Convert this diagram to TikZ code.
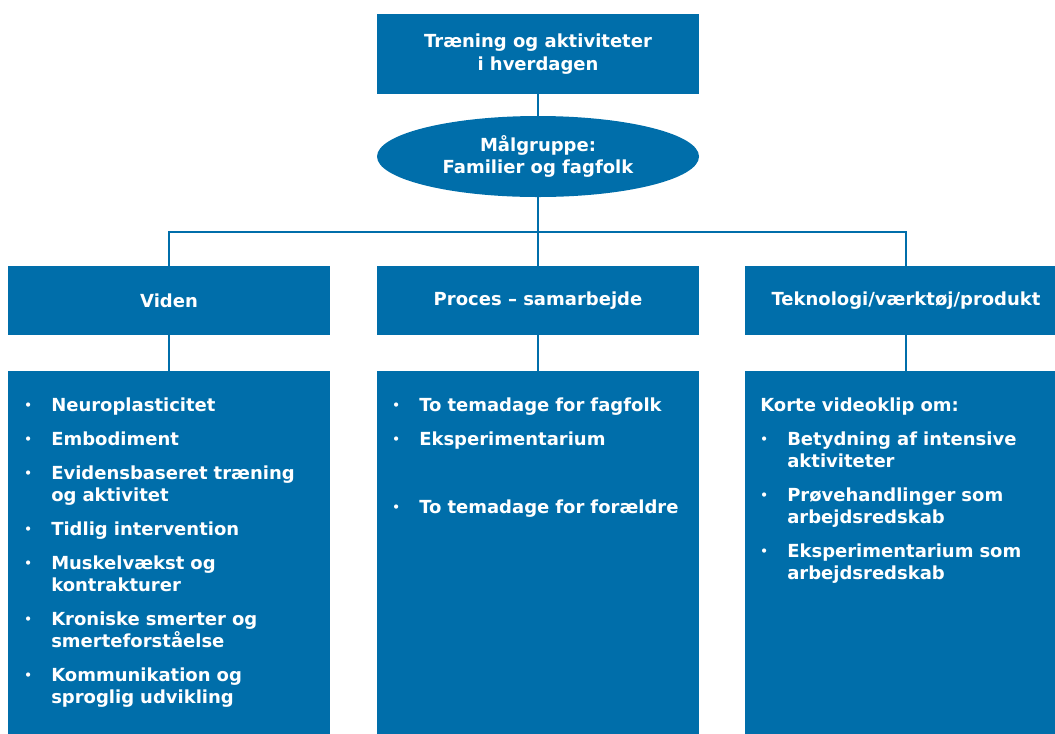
\documentclass[tikz,border=0pt]{standalone}
\usepackage{fontspec}
\setmainfont{DejaVu Sans}
\usetikzlibrary{shapes.geometric}
\definecolor{vblue}{RGB}{0,110,170}
\newcommand{\prik}{\raisebox{1.5pt}{\fontsize{9}{9}\selectfont\textbullet}}
\newcommand{\punkt}[1]{\noindent\hangindent=20.25pt\hangafter=1\makebox[20.25pt][l]{\prik}#1\par\vspace{9pt}}

\tikzset{
	boks/.style={fill=vblue, text=white, font=\bfseries\fontsize{13.5}{17}\selectfont, minimum width=241.5pt, inner sep=0pt, align=center},
	liste/.style={text=white, font=\bfseries\fontsize{13.5}{16.5}\selectfont, text width=225pt, inner sep=0pt, anchor=base west},
	linje/.style={draw=vblue, line width=1.5pt}
}

\begin{document}
\begin{tikzpicture}[x=0.75pt,y=-0.75pt]
	\useasboundingbox (0,0) rectangle (1055,733);
	\node[boks, minimum height=60pt] (top) at (538,54) {Træning og aktiviteter\\ i hverdagen};
	\node[boks, ellipse, minimum height=60.75pt] (maal) at (538,156.5) {Målgruppe:\\ Familier og fagfolk};
	%
	\node[boks, minimum height=51.75pt] (viden) at (169,300.5) {Viden};
	\node[boks, minimum height=51.75pt] (proces) at (538,300.5) {Proces – samarbejde};
	\node[boks, minimum height=51.75pt] (tekno) at (906,300.5) {Teknologi/værktøj/produkt};
	%
	\node[boks, minimum height=277.5pt] (vboks) at (169,556) {};
	\node[boks, minimum height=277.5pt] (pboks) at (538,556) {};
	\node[boks, minimum height=277.5pt] (tboks) at (906,556) {};
	\coordinate (split) at (538,232);
	%
	\node[liste] (vliste) at (24,411.5) {%
		\punkt{Neuroplasticitet}
		\punkt{Embodiment}
		\punkt{Evidensbaseret træning\newline og aktivitet}
		\punkt{Tidlig intervention}
		\punkt{Muskelvækst og\newline kontrakturer}
		\punkt{Kroniske smerter og\newline smerteforståelse}
		\punkt{Kommunikation og\newline sproglig udvikling}};
	\node[liste] (pliste) at (392,411) {%
		\punkt{To temadage for fagfolk}
		\punkt{Eksperimentarium}
		\vspace{25.5pt}
		\punkt{To temadage for forældre}};
	\node[liste] (tliste) at (760,411) {%
		Korte videoklip om:\par\vspace{9pt}
		\punkt{Betydning af intensive\newline aktiviteter}
		\punkt{Prøvehandlinger som\newline arbejdsredskab}
		\punkt{Eksperimentarium som\newline arbejdsredskab}};
	%
	\draw[linje] (top) -- (maal);
	\draw[linje] (maal) -- (proces);
	\draw[linje] (viden.north) |- (split) -| (tekno.north);
	\draw[linje] (viden) -- (vboks);
	\draw[linje] (proces) -- (pboks);
	\draw[linje] (tekno) -- (tboks);
\end{tikzpicture}
\end{document}
